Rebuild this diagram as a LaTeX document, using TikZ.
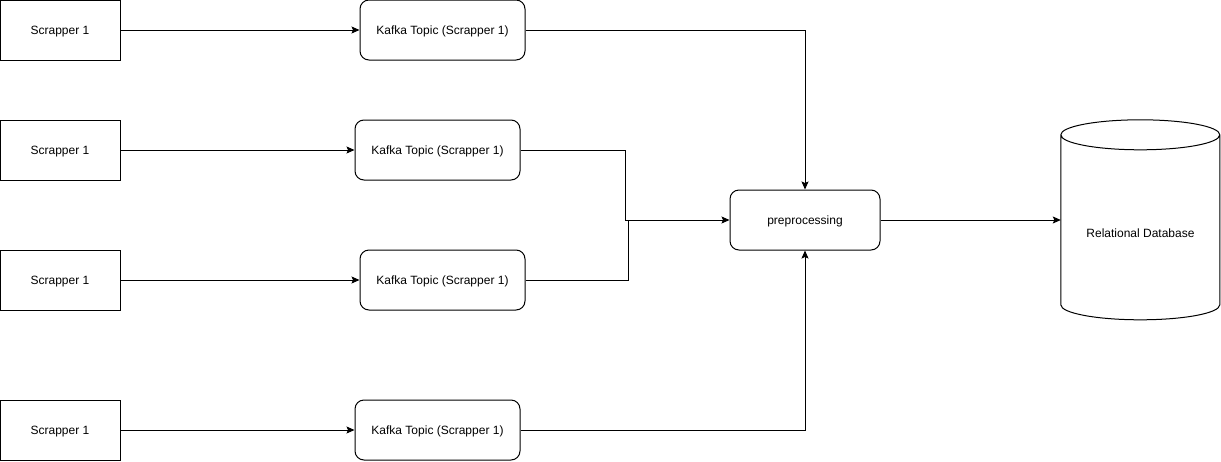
\documentclass[tikz,border=0pt]{standalone}
\usepackage{fontspec}
\setmainfont{Liberation Sans}
\usetikzlibrary{arrows.meta}
\begin{document}
\begin{tikzpicture}[x=1pt,y=-1pt,
  txt/.style={font=\fontsize{12}{14}\selectfont,text depth=0pt},
  box/.style={draw,line width=1pt,minimum width=120pt,minimum height=60pt,inner sep=0pt,txt},
  topic/.style={draw,line width=1pt,rounded corners=9pt,minimum width=165pt,minimum height=60pt,inner sep=0pt,txt},
  conn/.style={line width=1pt,-{Stealth[length=8pt,width=7pt,inset=1.5pt]}},
  plain/.style={line width=1pt}]
\useasboundingbox (0,0) rectangle (1221,461);
\node[box] (s1) at (60,30) {Scrapper 1};
\node[box] (s2) at (60,150) {Scrapper 1};
\node[box] (s3) at (60,280) {Scrapper 1};
\node[box] (s4) at (60,430) {Scrapper 1};
\node[topic] (k1) at (442.5,30) {Kafka Topic (Scrapper 1)};
\node[topic] (k2) at (437.5,150) {Kafka Topic (Scrapper 1)};
\node[topic] (k3) at (442.5,280) {Kafka Topic (Scrapper 1)};
\node[topic] (k4) at (437.5,430) {Kafka Topic (Scrapper 1)};
\node[topic,minimum width=150pt] (pp) at (805,220) {preprocessing};
\node[minimum width=159pt,minimum height=200pt,inner sep=0pt] (db) at (1140.5,220) {};
\node[txt] (dbl) at (1140.5,233) {Relational Database};
\draw[line width=1pt] (db.north west) ++(0,15) arc[start angle=180,end angle=360,x radius=79.5pt,y radius=15pt]
  arc[start angle=0,end angle=180,x radius=79.5pt,y radius=15pt] -- ++(0,170)
  arc[start angle=180,end angle=360,x radius=79.5pt,y radius=15pt] -- ++(0,-170);
\coordinate (j2) at (625,150);
\coordinate (j3) at (628,280);
\coordinate (jm) at (628,220);
\draw[conn] (s1) -- (k1);
\draw[conn] (s2) -- (k2);
\draw[conn] (s3) -- (k3);
\draw[conn] (s4) -- (k4);
\draw[conn] (k1.east) -| (pp.north);
\draw[conn] (k4.east) -| (pp.south);
\draw[conn] (k2.east) -- (j2) |- (pp.west);
\draw[plain] (k3.east) -- (j3) -- (jm);
\draw[conn] (pp.east) -- (db.west);
\end{tikzpicture}
\end{document}
